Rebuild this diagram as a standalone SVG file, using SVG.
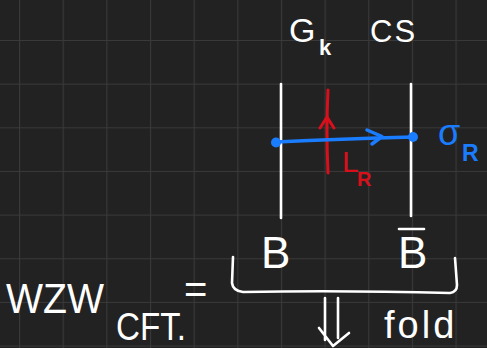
<svg xmlns="http://www.w3.org/2000/svg" width="487" height="348" viewBox="0 0 487 348">
<defs>
<pattern id="grid" x="19" y="40" width="43.65" height="43.65" patternUnits="userSpaceOnUse">
<path d="M0,0 V43.65 M0,0 H43.65" fill="none" stroke="#393939" stroke-width="2.2"/>
</pattern>
</defs>
<style>
.w{fill:#ffffff;font-family:"Liberation Sans","DejaVu Sans",sans-serif}
.r{fill:#d8101c;font-family:"Liberation Sans","DejaVu Sans",sans-serif}
.b{fill:#1a7cff;font-family:"Liberation Sans","DejaVu Sans",sans-serif}
.ws{fill:none;stroke:#ffffff;stroke-width:2.6;stroke-linecap:round;stroke-linejoin:round}
.rs{fill:none;stroke:#d8101c;stroke-width:3;stroke-linecap:round;stroke-linejoin:round}
.bs{fill:none;stroke:#1a7cff;stroke-width:3.5;stroke-linecap:round;stroke-linejoin:round}
</style>
<rect width="487" height="348" fill="#222222"/>
<rect width="487" height="348" fill="url(#grid)"/>
<g id="labels-top">
<text class="w" x="289" y="42" font-size="34">G</text>
<text class="w" x="319" y="55" font-size="22" font-weight="bold">k</text>
<text class="w" x="370" y="42" font-size="31" letter-spacing="2">CS</text>
</g>
<g id="connectors">
<line class="ws" x1="281" y1="84" x2="281" y2="218"/>
<line class="ws" x1="411" y1="84" x2="411" y2="216"/>
<path class="rs" d="M328,90 Q326,130 328,173"/>
<path class="rs" d="M320,128 L327,117 L334,128"/>
<path class="bs" d="M276,142 Q340,139 413,137"/>
<path class="bs" d="M367,130 L382,136.5 L372,144"/>
<circle cx="276" cy="142.5" r="5" fill="#1a7cff"/>
<circle cx="413" cy="137" r="5" fill="#1a7cff"/>
<path class="ws" d="M233,257 L232,283 Q233,291 243,292 Q340,290 450,293 Q457,292 457,285 L455,258"/>
<path class="ws" d="M325,298 L325,340 M338,298 L338,338 M319,328 L333,346 L349,333"/>
</g>
<g id="label-LR">
<text class="r" x="342" y="172" font-size="30">L</text>
<text class="r" x="357" y="186" font-size="20" font-weight="bold">R</text>
</g>
<g id="label-sigmaR">
<text class="b" x="438" y="145" font-size="36">σ</text>
<text class="b" x="462" y="161" font-size="23" font-weight="bold">R</text>
</g>
<g id="node-B">
<text class="w" x="261" y="268" font-size="44">B</text>
</g>
<g id="node-Bbar">
<text class="w" x="398" y="268" font-size="44">B</text>
<line class="ws" x1="399" y1="229" x2="424" y2="229"/>
</g>
<g id="label-wzw">
<text class="w" x="6" y="313" font-size="42" textLength="98" lengthAdjust="spacingAndGlyphs">WZW</text>
<text class="w" x="116" y="340" font-size="38" textLength="70" lengthAdjust="spacingAndGlyphs">CFT.</text>
<text class="w" x="184" y="303" font-size="40">=</text>
</g>
<g id="label-fold">
<text class="w" x="384" y="338" font-size="38" letter-spacing="3">fold</text>
</g>
</svg>
